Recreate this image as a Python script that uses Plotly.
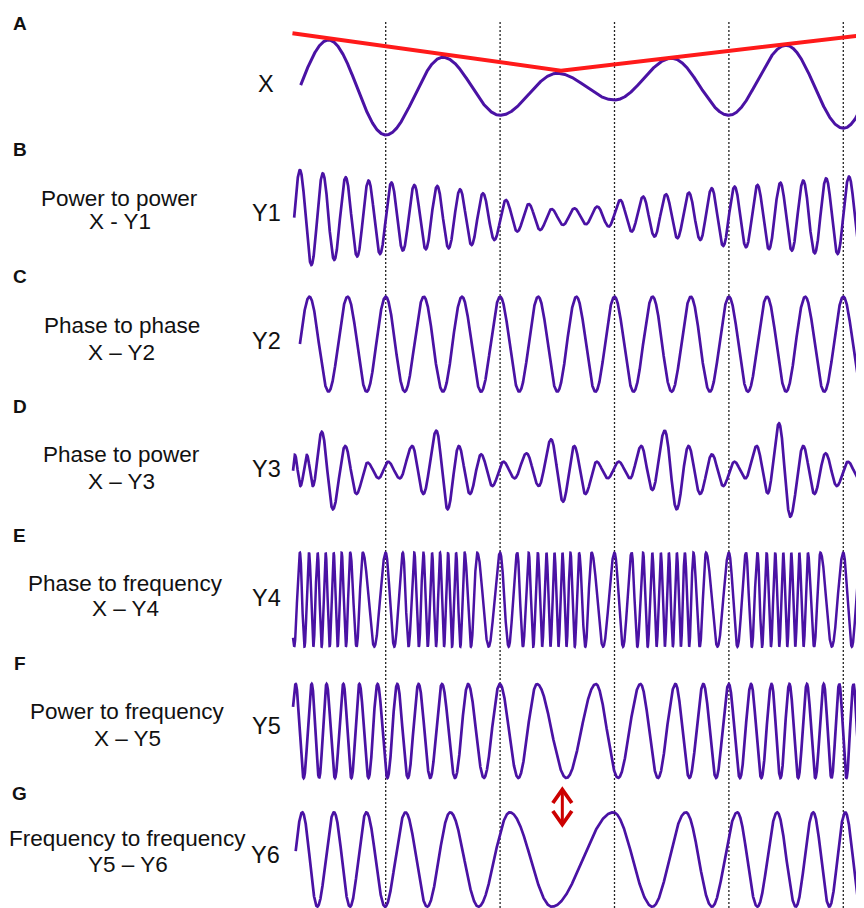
import numpy as np
import plotly.graph_objects as go

# page places the figure 8 px in from the top-left corner (body margin)
OFF = 8
W, H = 864 - OFF, 908 - OFF

# ---------------- data ----------------
# time in units of one X cycle; X troughs (dotted lines) sit at integer t
dotted_t = [1, 2, 3, 4, 5]
t_end = 5.181

# X : extrema (t, value)
X_t = [0.0, 0.5, 1.0, 1.5, 2.0, 2.5, 3.0, 3.5, 4.0, 4.5, 5.0, 5.5]
X_v = [-47, 47.3, -47.7, 30, -28, 14, -12.7, 29, -28, 42, -41, 50]
X_start = 0.257

# red envelope drawn over X
env_t = [0.185, 2.532, 5.181]
env_v = [54, 16.6, 52.3]

# Y1 : power to power, extrema
Y1_t = [0.15, 0.25, 0.35, 0.45, 0.55, 0.65, 0.75, 0.85, 0.95,
        1.05, 1.15, 1.25, 1.35, 1.45, 1.55, 1.65, 1.75, 1.85, 1.95,
        2.05, 2.15, 2.25, 2.35, 2.45, 2.55, 2.65, 2.75, 2.85, 2.95,
        3.05, 3.15, 3.25, 3.35, 3.45, 3.55, 3.65, 3.75, 3.85, 3.95,
        4.05, 4.15, 4.25, 4.35, 4.45, 4.55, 4.65, 4.75, 4.85, 4.95,
        5.05, 5.15, 5.25]
Y1_v = [-48, 47.3, -47.7, 44, -42.7, 40, -39.3, 36.7, -36.7,
        34.7, -33.3, 32.3, -32, 31.3, -31, 28, -27.7, 24, -22.7,
        17.3, -14.3, 13.3, -12.7, 8.3, -7.7, 9, -7, 10.7, -9.3,
        17.3, -14.3, 20.7, -19.3, 23, -21, 24.7, -22.7, 29, -28.7,
        30.7, -30, 32.3, -32, 34.7, -33.3, 36.7, -36, 39, -36.7,
        40.7, -39.3, 42]
Y1_start = 0.2

# Y2 : phase to phase, peak times (troughs halfway)
Y2_peak_t = [0.0, 0.333, 0.667, 1.0, 1.333, 1.667, 2.0, 2.333, 2.667,
             3.0, 3.333, 3.667, 4.0, 4.333, 4.667, 5.0, 5.333]
Y2_amp = 47.5
Y2_start = 0.25

# Y3 : phase to power, extrema
Y3_t = [0.175, 0.206, 0.255, 0.311, 0.363, 0.441, 0.538, 0.646, 0.744, 0.841, 0.939,
        1.020, 1.124, 1.232, 1.329, 1.443, 1.541, 1.639, 1.736, 1.834, 1.932,
        2.029, 2.127, 2.231, 2.338, 2.446, 2.550, 2.648, 2.745, 2.843, 2.941,
        3.038, 3.136, 3.234, 3.331, 3.439, 3.543, 3.647, 3.748, 3.852, 3.950,
        4.048, 4.145, 4.243, 4.340, 4.438, 4.536, 4.650, 4.747, 4.845, 4.943,
        5.040, 5.138, 5.236]
Y3_v = [-15, 15, -16, 15, -16, 38.3, -39.3, 24, -24, 7.3, -8.3,
        8.3, -8.3, 24, -24, 39.3, -39.3, 24, -24, 15.7, -16,
        8.3, -8.3, 16.7, -16, 30.7, -31.7, 24, -24, 8.3, -8.3,
        8.3, -8.3, 24, -20, 39.3, -39.3, 24, -24, 15.7, -16,
        8.3, -8.3, 24, -23.3, 46.7, -46.7, 24, -24, 16.7, -16,
        8.3, -8.3, 16]
Y3_start = 0.19

# Y4 : phase to frequency, peak offsets inside one X cycle (same every cycle)
Y4_cycle_peaks = [0.0, 0.15, 0.25, 0.33, 0.405, 0.475, 0.545, 0.615, 0.69, 0.80]
Y4_cycles = [0, 1, 2, 3, 4, 5]
Y4_amp = 47
Y4_start = 0.19

# Y5 : power to frequency, peak times (troughs halfway)
Y5_peak_t = [0.073, 0.213, 0.353, 0.483, 0.630, 0.770, 0.929, 1.101, 1.287, 1.492,
             1.720, 1.997, 2.322, 2.837, 3.227, 3.533, 3.777, 3.999, 4.194,
             4.373, 4.529, 4.682, 4.829, 4.965, 5.089, 5.21]
Y5_amp = 47
Y5_start = 0.19

# Y6 : frequency to frequency, peaks and troughs
Y6_peak_t = [0.271, 0.548, 0.831, 1.173, 1.564, 2.085, 2.990, 3.624, 4.073,
             4.422, 4.737, 5.017, 5.29]
Y6_trough_t = [0.140, 0.402, 0.688, 0.994, 1.362, 1.811, 2.452, 3.331, 3.852,
               4.249, 4.585, 4.878, 5.154]
Y6_amp = 47.2
Y6_start = 0.213

# arrow position (t) between Y5 and Y6
arrow_t = 2.544

# ---------------- helpers ----------------
def wave(ext_t, ext_v, t0, t1, n=9000):
    et = np.asarray(ext_t, float)
    ev = np.asarray(ext_v, float)
    order = np.argsort(et)
    et, ev = et[order], ev[order]
    t = np.linspace(t0, t1, n)
    i = np.clip(np.searchsorted(et, t, side="right") - 1, 0, len(et) - 2)
    f = (t - et[i]) / (et[i + 1] - et[i])
    s = (1 - np.cos(np.pi * f)) / 2
    return t, ev[i] + (ev[i + 1] - ev[i]) * s


def alternate(peaks, amp):
    pk = sorted(peaks)
    ts, vs = [], []
    for a, b in zip(pk[:-1], pk[1:]):
        ts += [a, (a + b) / 2]
        vs += [amp, -amp]
    ts.append(pk[-1])
    vs.append(amp)
    return ts, vs


def px(x):  # screen x -> paper
    return (x - OFF) / W


def py(y):  # screen y -> paper
    return 1 - (y - OFF) / H


# ---------------- build signals ----------------
Y2_t, Y2_v = alternate(Y2_peak_t, Y2_amp)
Y4_peaks = [c + o for c in Y4_cycles for o in Y4_cycle_peaks]
Y4_t, Y4_v = alternate(Y4_peaks, Y4_amp)
Y5_t, Y5_v = alternate(Y5_peak_t, Y5_amp)
Y6_t = Y6_peak_t + Y6_trough_t
Y6_v = [Y6_amp] * len(Y6_peak_t) + [-Y6_amp] * len(Y6_trough_t)

signals = [
    (X_t, X_v, X_start, 3.0),
    (Y1_t, Y1_v, Y1_start, 2.7),
    (Y2_t, Y2_v, Y2_start, 2.7),
    (Y3_t, Y3_v, Y3_start, 2.7),
    (Y4_t, Y4_v, Y4_start, 2.5),
    (Y5_t, Y5_v, Y5_start, 2.7),
    (Y6_t, Y6_v, Y6_start, 2.7),
]

# row layout on screen: centre (px from top), range below, range above
rows = [(87.3, 60, 60), (217.3, 50, 50), (344.2, 50, 50), (470, 50, 50),
        (599.7, 50, 50), (731, 50, 50), (859.5, 48.5, 50)]

PURPLE = "#4a12a4"
fig = go.Figure()
layout_axes = {}
for k, ((et, ev, t0, lw), (c, hb, ht)) in enumerate(zip(signals, rows)):
    name = "y" if k == 0 else f"y{k+1}"
    t, v = wave(et, ev, t0, t_end)
    fig.add_trace(go.Scatter(x=t, y=v, mode="lines", xaxis="x", yaxis=name,
                             line=dict(color=PURPLE, width=lw), hoverinfo="skip",
                             showlegend=False))
    key = "yaxis" if k == 0 else f"yaxis{k+1}"
    lo = py(c + hb)
    rng_lo = -hb
    if lo < 0:
        rng_lo = -hb + (-lo) * H
        lo = 0
    layout_axes[key] = dict(domain=[lo, min(1, py(c - ht))],
                            range=[rng_lo, ht], visible=False, anchor="x",
                            fixedrange=True)

# red envelope
fig.add_trace(go.Scatter(x=env_t, y=env_v, mode="lines", xaxis="x", yaxis="y",
                         line=dict(color="#ff1a1a", width=4), hoverinfo="skip",
                         showlegend=False))

shapes = []
for d in dotted_t:
    shapes.append(dict(type="line", xref="x", yref="paper", x0=d, x1=d,
                       y0=0, y1=py(20), layer="below",
                       line=dict(color="#222222", width=1.3, dash="2px,2px")))

# double-headed red arrow
dx = 0.083
RED = "#cc0000"
shapes.append(dict(type="path", xref="x", yref="paper",
                   path=f"M {arrow_t-dx},{py(803)} L {arrow_t},{py(789.5)} L {arrow_t+dx},{py(803)}",
                   line=dict(color=RED, width=3.8)))
shapes.append(dict(type="path", xref="x", yref="paper",
                   path=f"M {arrow_t-dx},{py(811)} L {arrow_t},{py(824.5)} L {arrow_t+dx},{py(811)}",
                   line=dict(color=RED, width=3.8)))
shapes.append(dict(type="line", xref="x", yref="paper", x0=arrow_t, x1=arrow_t,
                   y0=py(791), y1=py(823), line=dict(color=RED, width=3)))

# ---------------- text ----------------
FONT = "Liberation Sans, Arial, sans-serif"
panel_letters = ["A", "B", "C", "D", "E", "F", "G"]
panel_letter_y = [23, 149.7, 276.5, 406, 535, 663, 793]
row_labels = ["X", "Y1", "Y2", "Y3", "Y4", "Y5", "Y6"]
row_label_xy = [(266, 84), (266, 212.5), (266, 341), (266, 469), (266, 598),
                (266, 726), (265, 855)]
desc_top = ["Power to power", "Phase to phase", "Phase to power",
            "Phase to frequency", "Power to frequency", "Frequency to frequency"]
desc_bot = ["X - Y1", "X \u2013 Y2", "X \u2013 Y3", "X \u2013 Y4", "X \u2013 Y5",
            "Y5 \u2013 Y6"]
desc_xy = [(119.5, 198, 221), (122, 326, 352), (122, 455, 481),
           (125, 583, 608), (128, 711, 738), (128, 838, 864)]

ann = []
for L, y in zip(panel_letters, panel_letter_y):
    ann.append(dict(text=f"<b>{L}</b>", x=px(19.5), y=py(y), xref="paper", yref="paper",
                    showarrow=False, xanchor="center", yanchor="middle",
                    font=dict(family=FONT, size=19, color="#111")))
for L, (x, y) in zip(row_labels, row_label_xy):
    ann.append(dict(text=L, x=px(x), y=py(y), xref="paper", yref="paper",
                    showarrow=False, xanchor="center", yanchor="middle",
                    font=dict(family=FONT, size=23.5, color="#111")))
for a, b, (x, y1, y2) in zip(desc_top, desc_bot, desc_xy):
    for s, y in ((a, y1), (b, y2)):
        ann.append(dict(text=s, x=px(x), y=py(y), xref="paper", yref="paper",
                        showarrow=False, xanchor="center", yanchor="middle",
                        font=dict(family=FONT, size=22.5, color="#111")))

t_left = 1 + (OFF - 385.7) / 114.4
fig.update_layout(
    width=W, height=H, margin=dict(l=0, r=0, t=0, b=0),
    paper_bgcolor="white", plot_bgcolor="rgba(0,0,0,0)",
    xaxis=dict(domain=[0, 1], range=[t_left, t_end], visible=False, fixedrange=True),
    shapes=shapes, annotations=ann, showlegend=False,
    **layout_axes,
)
fig.write_html("out.html", config={"displayModeBar": False})
